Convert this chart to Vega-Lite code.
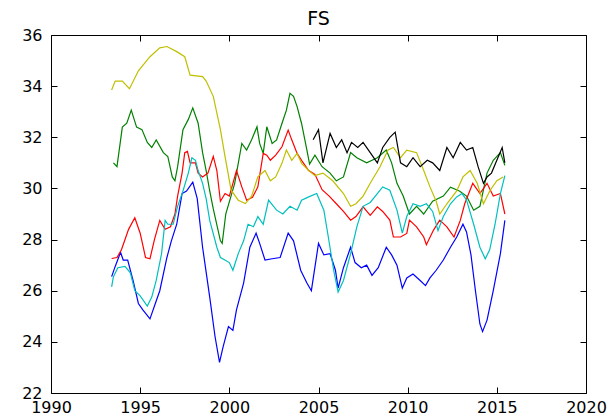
{
  "$schema": "https://vega.github.io/schema/vega-lite/v6.json",
  "autosize": {"type": "none"},
  "width": 535,
  "height": 358,
  "padding": {"left": 51, "top": 35, "right": 22, "bottom": 23},
  "background": "white",
  "view": {"stroke": "black", "strokeWidth": 1},
  "title": {"text": "FS", "fontSize": 19, "font": "DejaVu Sans", "fontWeight": "normal", "color": "black", "anchor": "middle", "offset": -2},
  "config": {"axis": {"labelFont": "DejaVu Sans", "labelFontSize": 16, "labelColor": "black", "tickColor": "black", "tickWidth": 1, "domain": false, "grid": false, "title": null}},
  "data": {"values": [
    {"s":"s1","x":1993.4,"y":26.55},{"s":"s1","x":1993.6,"y":26.95},{"s":"s1","x":1993.9,"y":27.5},{"s":"s1","x":1994.05,"y":27.2},{"s":"s1","x":1994.3,"y":27.2},{"s":"s1","x":1994.6,"y":26.4},{"s":"s1","x":1994.9,"y":25.5},{"s":"s1","x":1995.15,"y":25.25},{"s":"s1","x":1995.55,"y":24.9},{"s":"s1","x":1995.85,"y":25.5},{"s":"s1","x":1996.1,"y":26.0},{"s":"s1","x":1996.5,"y":27.3},{"s":"s1","x":1996.75,"y":27.95},{"s":"s1","x":1997.05,"y":28.6},{"s":"s1","x":1997.35,"y":29.8},{"s":"s1","x":1997.6,"y":29.9},{"s":"s1","x":1997.95,"y":30.25},{"s":"s1","x":1998.2,"y":29.6},{"s":"s1","x":1998.5,"y":27.7},{"s":"s1","x":1998.9,"y":25.75},{"s":"s1","x":1999.2,"y":24.2},{"s":"s1","x":1999.45,"y":23.2},{"s":"s1","x":1999.65,"y":23.8},{"s":"s1","x":1999.95,"y":24.6},{"s":"s1","x":2000.2,"y":24.45},{"s":"s1","x":2000.4,"y":25.25},{"s":"s1","x":2000.8,"y":26.3},{"s":"s1","x":2001.15,"y":27.7},{"s":"s1","x":2001.5,"y":28.25},{"s":"s1","x":2001.7,"y":27.85},{"s":"s1","x":2002.0,"y":27.2},{"s":"s1","x":2002.4,"y":27.25},{"s":"s1","x":2002.85,"y":27.3},{"s":"s1","x":2003.3,"y":28.25},{"s":"s1","x":2003.6,"y":27.95},{"s":"s1","x":2004.0,"y":26.8},{"s":"s1","x":2004.35,"y":26.3},{"s":"s1","x":2004.6,"y":26.0},{"s":"s1","x":2005.0,"y":27.85},{"s":"s1","x":2005.3,"y":27.4},{"s":"s1","x":2005.65,"y":27.45},{"s":"s1","x":2005.95,"y":26.8},{"s":"s1","x":2006.1,"y":26.1},{"s":"s1","x":2006.4,"y":26.9},{"s":"s1","x":2006.8,"y":27.7},{"s":"s1","x":2007.05,"y":27.1},{"s":"s1","x":2007.4,"y":26.9},{"s":"s1","x":2007.7,"y":27.0},{"s":"s1","x":2008.0,"y":26.6},{"s":"s1","x":2008.35,"y":26.9},{"s":"s1","x":2008.8,"y":27.7},{"s":"s1","x":2009.1,"y":27.4},{"s":"s1","x":2009.4,"y":27.0},{"s":"s1","x":2009.7,"y":26.1},{"s":"s1","x":2009.95,"y":26.5},{"s":"s1","x":2010.3,"y":26.65},{"s":"s1","x":2010.7,"y":26.4},{"s":"s1","x":2011.0,"y":26.2},{"s":"s1","x":2011.25,"y":26.5},{"s":"s1","x":2011.6,"y":26.8},{"s":"s1","x":2012.0,"y":27.2},{"s":"s1","x":2012.4,"y":27.7},{"s":"s1","x":2012.75,"y":28.1},{"s":"s1","x":2013.1,"y":28.6},{"s":"s1","x":2013.3,"y":28.3},{"s":"s1","x":2013.55,"y":27.4},{"s":"s1","x":2013.8,"y":26.0},{"s":"s1","x":2014.05,"y":24.7},{"s":"s1","x":2014.2,"y":24.4},{"s":"s1","x":2014.45,"y":24.85},{"s":"s1","x":2014.8,"y":26.0},{"s":"s1","x":2015.2,"y":27.45},{"s":"s1","x":2015.45,"y":28.75},

    {"s":"s2","x":1993.5,"y":31.0},{"s":"s2","x":1993.7,"y":30.85},{"s":"s2","x":1994.0,"y":32.4},{"s":"s2","x":1994.25,"y":32.55},{"s":"s2","x":1994.5,"y":33.06},{"s":"s2","x":1994.8,"y":32.4},{"s":"s2","x":1995.1,"y":32.3},{"s":"s2","x":1995.4,"y":31.8},{"s":"s2","x":1995.65,"y":31.6},{"s":"s2","x":1995.9,"y":31.9},{"s":"s2","x":1996.3,"y":31.4},{"s":"s2","x":1996.55,"y":31.25},{"s":"s2","x":1996.8,"y":30.45},{"s":"s2","x":1996.95,"y":30.3},{"s":"s2","x":1997.1,"y":30.85},{"s":"s2","x":1997.4,"y":32.3},{"s":"s2","x":1997.7,"y":32.7},{"s":"s2","x":1997.95,"y":33.15},{"s":"s2","x":1998.25,"y":32.55},{"s":"s2","x":1998.5,"y":31.4},{"s":"s2","x":1998.7,"y":30.7},{"s":"s2","x":1998.9,"y":29.9},{"s":"s2","x":1999.1,"y":29.2},{"s":"s2","x":1999.5,"y":27.95},{"s":"s2","x":1999.6,"y":27.85},{"s":"s2","x":1999.8,"y":29.0},{"s":"s2","x":2000.3,"y":30.2},{"s":"s2","x":2000.7,"y":31.76},{"s":"s2","x":2000.97,"y":31.5},{"s":"s2","x":2001.25,"y":31.9},{"s":"s2","x":2001.55,"y":32.41},{"s":"s2","x":2001.7,"y":31.76},{"s":"s2","x":2001.9,"y":31.37},{"s":"s2","x":2002.1,"y":32.41},{"s":"s2","x":2002.4,"y":31.76},{"s":"s2","x":2002.65,"y":31.9},{"s":"s2","x":2002.95,"y":32.54},{"s":"s2","x":2003.2,"y":33.06},{"s":"s2","x":2003.4,"y":33.72},{"s":"s2","x":2003.6,"y":33.6},{"s":"s2","x":2003.8,"y":33.2},{"s":"s2","x":2004.05,"y":32.54},{"s":"s2","x":2004.35,"y":31.5},{"s":"s2","x":2004.5,"y":30.95},{"s":"s2","x":2004.8,"y":31.3},{"s":"s2","x":2005.2,"y":30.85},{"s":"s2","x":2005.65,"y":30.6},{"s":"s2","x":2006.0,"y":30.3},{"s":"s2","x":2006.4,"y":30.45},{"s":"s2","x":2006.8,"y":31.4},{"s":"s2","x":2007.15,"y":31.2},{"s":"s2","x":2007.7,"y":31.0},{"s":"s2","x":2008.3,"y":31.2},{"s":"s2","x":2008.8,"y":31.5},{"s":"s2","x":2009.1,"y":31.0},{"s":"s2","x":2009.4,"y":30.2},{"s":"s2","x":2009.75,"y":29.7},{"s":"s2","x":2010.1,"y":29.0},{"s":"s2","x":2010.5,"y":29.3},{"s":"s2","x":2010.9,"y":29.0},{"s":"s2","x":2011.4,"y":29.5},{"s":"s2","x":2012.0,"y":29.7},{"s":"s2","x":2012.4,"y":30.05},{"s":"s2","x":2012.9,"y":29.9},{"s":"s2","x":2013.3,"y":29.7},{"s":"s2","x":2013.7,"y":29.15},{"s":"s2","x":2014.05,"y":29.3},{"s":"s2","x":2014.45,"y":30.6},{"s":"s2","x":2014.8,"y":31.1},{"s":"s2","x":2015.2,"y":31.4},{"s":"s2","x":2015.45,"y":30.9},

    {"s":"s3","x":1993.4,"y":27.26},{"s":"s3","x":1993.7,"y":27.3},{"s":"s3","x":1993.95,"y":27.6},{"s":"s3","x":1994.35,"y":28.4},{"s":"s3","x":1994.7,"y":28.85},{"s":"s3","x":1995.0,"y":28.25},{"s":"s3","x":1995.3,"y":27.3},{"s":"s3","x":1995.55,"y":27.25},{"s":"s3","x":1995.8,"y":28.0},{"s":"s3","x":1996.1,"y":28.75},{"s":"s3","x":1996.4,"y":28.4},{"s":"s3","x":1996.7,"y":28.5},{"s":"s3","x":1996.95,"y":29.0},{"s":"s3","x":1997.1,"y":29.7},{"s":"s3","x":1997.35,"y":30.6},{"s":"s3","x":1997.5,"y":31.4},{"s":"s3","x":1997.65,"y":31.45},{"s":"s3","x":1997.8,"y":31.0},{"s":"s3","x":1998.1,"y":31.0},{"s":"s3","x":1998.25,"y":30.6},{"s":"s3","x":1998.5,"y":30.45},{"s":"s3","x":1998.8,"y":30.6},{"s":"s3","x":1999.1,"y":31.25},{"s":"s3","x":1999.3,"y":30.7},{"s":"s3","x":1999.5,"y":29.5},{"s":"s3","x":1999.76,"y":29.8},{"s":"s3","x":2000.0,"y":29.7},{"s":"s3","x":2000.4,"y":30.7},{"s":"s3","x":2000.7,"y":30.06},{"s":"s3","x":2000.97,"y":29.54},{"s":"s3","x":2001.3,"y":29.65},{"s":"s3","x":2001.6,"y":30.06},{"s":"s3","x":2001.9,"y":31.37},{"s":"s3","x":2002.1,"y":31.3},{"s":"s3","x":2002.3,"y":31.1},{"s":"s3","x":2002.6,"y":31.3},{"s":"s3","x":2002.95,"y":31.63},{"s":"s3","x":2003.3,"y":32.28},{"s":"s3","x":2003.5,"y":31.9},{"s":"s3","x":2003.8,"y":31.37},{"s":"s3","x":2004.05,"y":31.1},{"s":"s3","x":2004.45,"y":30.7},{"s":"s3","x":2004.8,"y":30.55},{"s":"s3","x":2005.2,"y":29.95},{"s":"s3","x":2005.6,"y":29.7},{"s":"s3","x":2006.0,"y":29.4},{"s":"s3","x":2006.4,"y":29.1},{"s":"s3","x":2006.8,"y":28.76},{"s":"s3","x":2007.1,"y":28.9},{"s":"s3","x":2007.5,"y":29.28},{"s":"s3","x":2007.9,"y":28.95},{"s":"s3","x":2008.3,"y":29.28},{"s":"s3","x":2008.6,"y":29.1},{"s":"s3","x":2009.0,"y":28.76},{"s":"s3","x":2009.2,"y":28.1},{"s":"s3","x":2009.6,"y":28.1},{"s":"s3","x":2009.95,"y":28.24},{"s":"s3","x":2010.1,"y":28.76},{"s":"s3","x":2010.5,"y":28.5},{"s":"s3","x":2010.9,"y":28.1},{"s":"s3","x":2011.05,"y":27.8},{"s":"s3","x":2011.45,"y":28.37},{"s":"s3","x":2011.8,"y":28.76},{"s":"s3","x":2012.2,"y":28.5},{"s":"s3","x":2012.6,"y":28.1},{"s":"s3","x":2012.95,"y":28.75},{"s":"s3","x":2013.2,"y":29.4},{"s":"s3","x":2013.65,"y":30.2},{"s":"s3","x":2014.05,"y":29.8},{"s":"s3","x":2014.45,"y":30.2},{"s":"s3","x":2014.8,"y":29.7},{"s":"s3","x":2015.2,"y":29.8},{"s":"s3","x":2015.45,"y":29.0},

    {"s":"s4","x":1993.4,"y":26.15},{"s":"s4","x":1993.5,"y":26.55},{"s":"s4","x":1993.75,"y":26.9},{"s":"s4","x":1994.15,"y":26.95},{"s":"s4","x":1994.45,"y":26.7},{"s":"s4","x":1994.7,"y":26.0},{"s":"s4","x":1995.0,"y":25.8},{"s":"s4","x":1995.4,"y":25.4},{"s":"s4","x":1995.65,"y":25.75},{"s":"s4","x":1995.9,"y":26.4},{"s":"s4","x":1996.2,"y":27.45},{"s":"s4","x":1996.4,"y":28.75},{"s":"s4","x":1996.55,"y":28.6},{"s":"s4","x":1996.85,"y":28.6},{"s":"s4","x":1997.1,"y":29.3},{"s":"s4","x":1997.4,"y":29.9},{"s":"s4","x":1997.7,"y":30.6},{"s":"s4","x":1997.9,"y":31.2},{"s":"s4","x":1998.1,"y":31.1},{"s":"s4","x":1998.25,"y":30.7},{"s":"s4","x":1998.5,"y":30.2},{"s":"s4","x":1998.7,"y":29.6},{"s":"s4","x":1998.9,"y":28.75},{"s":"s4","x":1999.3,"y":27.7},{"s":"s4","x":1999.5,"y":27.3},{"s":"s4","x":1999.75,"y":27.2},{"s":"s4","x":2000.0,"y":27.1},{"s":"s4","x":2000.2,"y":26.8},{"s":"s4","x":2000.5,"y":27.45},{"s":"s4","x":2000.8,"y":27.95},{"s":"s4","x":2001.05,"y":28.6},{"s":"s4","x":2001.35,"y":28.5},{"s":"s4","x":2001.6,"y":28.9},{"s":"s4","x":2001.9,"y":28.6},{"s":"s4","x":2002.2,"y":29.54},{"s":"s4","x":2002.65,"y":29.15},{"s":"s4","x":2003.0,"y":29.0},{"s":"s4","x":2003.4,"y":29.3},{"s":"s4","x":2003.8,"y":29.15},{"s":"s4","x":2004.05,"y":29.54},{"s":"s4","x":2004.45,"y":29.67},{"s":"s4","x":2004.9,"y":29.8},{"s":"s4","x":2005.3,"y":29.15},{"s":"s4","x":2005.55,"y":28.1},{"s":"s4","x":2005.85,"y":26.8},{"s":"s4","x":2006.1,"y":25.95},{"s":"s4","x":2006.4,"y":26.4},{"s":"s4","x":2006.8,"y":27.45},{"s":"s4","x":2007.15,"y":28.5},{"s":"s4","x":2007.5,"y":29.3},{"s":"s4","x":2007.9,"y":29.45},{"s":"s4","x":2008.3,"y":29.8},{"s":"s4","x":2008.6,"y":30.06},{"s":"s4","x":2009.0,"y":29.93},{"s":"s4","x":2009.4,"y":29.15},{"s":"s4","x":2009.7,"y":28.25},{"s":"s4","x":2009.95,"y":28.9},{"s":"s4","x":2010.3,"y":29.4},{"s":"s4","x":2010.7,"y":29.3},{"s":"s4","x":2011.05,"y":29.4},{"s":"s4","x":2011.4,"y":29.1},{"s":"s4","x":2011.7,"y":28.35},{"s":"s4","x":2012.0,"y":28.9},{"s":"s4","x":2012.4,"y":29.4},{"s":"s4","x":2012.75,"y":29.67},{"s":"s4","x":2013.05,"y":29.8},{"s":"s4","x":2013.3,"y":29.55},{"s":"s4","x":2013.7,"y":28.6},{"s":"s4","x":2014.05,"y":27.7},{"s":"s4","x":2014.35,"y":27.25},{"s":"s4","x":2014.6,"y":27.6},{"s":"s4","x":2014.9,"y":28.6},{"s":"s4","x":2015.2,"y":29.8},{"s":"s4","x":2015.45,"y":30.5},

    {"s":"s5","x":1993.4,"y":33.85},{"s":"s5","x":1993.6,"y":34.2},{"s":"s5","x":1994.0,"y":34.2},{"s":"s5","x":1994.4,"y":33.9},{"s":"s5","x":1994.9,"y":34.6},{"s":"s5","x":1995.55,"y":35.15},{"s":"s5","x":1996.1,"y":35.5},{"s":"s5","x":1996.5,"y":35.55},{"s":"s5","x":1997.05,"y":35.35},{"s":"s5","x":1997.5,"y":35.15},{"s":"s5","x":1997.8,"y":34.43},{"s":"s5","x":1998.5,"y":34.37},{"s":"s5","x":1998.7,"y":34.2},{"s":"s5","x":1999.1,"y":33.6},{"s":"s5","x":1999.5,"y":32.3},{"s":"s5","x":1999.76,"y":31.24},{"s":"s5","x":2000.1,"y":29.93},{"s":"s5","x":2000.5,"y":29.54},{"s":"s5","x":2000.9,"y":29.41},{"s":"s5","x":2001.25,"y":29.7},{"s":"s5","x":2001.6,"y":30.45},{"s":"s5","x":2002.0,"y":30.7},{"s":"s5","x":2002.3,"y":30.3},{"s":"s5","x":2002.6,"y":30.45},{"s":"s5","x":2002.95,"y":30.98},{"s":"s5","x":2003.2,"y":31.5},{"s":"s5","x":2003.5,"y":31.1},{"s":"s5","x":2003.8,"y":31.37},{"s":"s5","x":2004.05,"y":30.98},{"s":"s5","x":2004.45,"y":30.7},{"s":"s5","x":2004.8,"y":30.5},{"s":"s5","x":2005.25,"y":30.6},{"s":"s5","x":2005.8,"y":30.3},{"s":"s5","x":2006.4,"y":29.8},{"s":"s5","x":2006.8,"y":29.3},{"s":"s5","x":2007.1,"y":29.4},{"s":"s5","x":2007.5,"y":29.7},{"s":"s5","x":2007.9,"y":30.2},{"s":"s5","x":2008.45,"y":30.85},{"s":"s5","x":2008.9,"y":31.5},{"s":"s5","x":2009.2,"y":31.6},{"s":"s5","x":2009.6,"y":31.2},{"s":"s5","x":2009.95,"y":31.5},{"s":"s5","x":2010.5,"y":31.4},{"s":"s5","x":2010.9,"y":30.7},{"s":"s5","x":2011.25,"y":30.06},{"s":"s5","x":2011.6,"y":29.5},{"s":"s5","x":2011.8,"y":29.0},{"s":"s5","x":2012.2,"y":29.4},{"s":"s5","x":2012.75,"y":29.9},{"s":"s5","x":2013.1,"y":30.45},{"s":"s5","x":2013.5,"y":30.7},{"s":"s5","x":2013.9,"y":30.2},{"s":"s5","x":2014.25,"y":29.4},{"s":"s5","x":2014.6,"y":29.9},{"s":"s5","x":2015.0,"y":30.3},{"s":"s5","x":2015.35,"y":30.45},

    {"s":"s6","x":2004.7,"y":31.9},{"s":"s6","x":2005.0,"y":32.3},{"s":"s6","x":2005.25,"y":31.0},{"s":"s6","x":2005.65,"y":32.15},{"s":"s6","x":2006.0,"y":31.6},{"s":"s6","x":2006.3,"y":31.9},{"s":"s6","x":2006.6,"y":31.4},{"s":"s6","x":2006.85,"y":31.8},{"s":"s6","x":2007.2,"y":31.6},{"s":"s6","x":2007.5,"y":31.8},{"s":"s6","x":2007.9,"y":31.4},{"s":"s6","x":2008.3,"y":31.0},{"s":"s6","x":2008.6,"y":31.6},{"s":"s6","x":2009.0,"y":32.0},{"s":"s6","x":2009.3,"y":32.2},{"s":"s6","x":2009.6,"y":31.0},{"s":"s6","x":2009.95,"y":30.85},{"s":"s6","x":2010.3,"y":31.2},{"s":"s6","x":2010.7,"y":30.85},{"s":"s6","x":2011.1,"y":31.1},{"s":"s6","x":2011.4,"y":31.0},{"s":"s6","x":2011.8,"y":30.7},{"s":"s6","x":2012.2,"y":31.6},{"s":"s6","x":2012.55,"y":31.2},{"s":"s6","x":2012.95,"y":31.8},{"s":"s6","x":2013.3,"y":31.5},{"s":"s6","x":2013.65,"y":31.6},{"s":"s6","x":2013.95,"y":30.85},{"s":"s6","x":2014.25,"y":30.2},{"s":"s6","x":2014.45,"y":30.45},{"s":"s6","x":2014.7,"y":30.6},{"s":"s6","x":2015.0,"y":31.1},{"s":"s6","x":2015.3,"y":31.6},{"s":"s6","x":2015.45,"y":31.0}
  ]},
  "resolve": {"axis": {"x": "independent", "y": "independent"}},
  "layer": [
    {
      "mark": {"type": "line", "strokeWidth": 1.2, "clip": true},
      "encoding": {
        "x": {"field": "x", "type": "quantitative", "scale": {"domain": [1990, 2020], "nice": false, "zero": false},
              "axis": {"orient": "bottom", "values": [1990, 1995, 2000, 2005, 2010, 2015, 2020], "format": "d", "ticks": false, "tickSize": 0, "labelPadding": 6, "labelFlush": false}},
        "y": {"field": "y", "type": "quantitative", "scale": {"domain": [22, 36], "nice": false, "zero": false},
              "axis": {"orient": "left", "values": [22, 24, 26, 28, 30, 32, 34, 36], "ticks": false, "tickSize": 0, "labelPadding": 9}},
        "color": {"field": "s", "type": "nominal", "legend": null,
                  "scale": {"domain": ["s1", "s2", "s3", "s4", "s5", "s6"], "range": ["#0000ff", "#008000", "#ff0000", "#00bfbf", "#bfbf00", "#000000"]}},
        "order": {"field": "x", "type": "quantitative"}
      }
    },
    {
      "mark": {"type": "line", "strokeOpacity": 0},
      "encoding": {
        "x": {"field": "x", "type": "quantitative", "axis": {"orient": "bottom", "values": [1990, 1995, 2000, 2005, 2010, 2015, 2020], "labels": false, "tickSize": 6, "offset": -6}},
        "y": {"field": "y", "type": "quantitative", "axis": {"orient": "left", "values": [22, 24, 26, 28, 30, 32, 34, 36], "labels": false, "tickSize": 6, "offset": -6}},
        "detail": {"field": "s", "type": "nominal"}
      }
    },
    {
      "mark": {"type": "line", "strokeOpacity": 0},
      "encoding": {
        "x": {"field": "x", "type": "quantitative", "axis": {"orient": "top", "values": [1990, 1995, 2000, 2005, 2010, 2015, 2020], "labels": false, "tickSize": 6, "offset": -6}},
        "y": {"field": "y", "type": "quantitative", "axis": {"orient": "right", "values": [22, 24, 26, 28, 30, 32, 34, 36], "labels": false, "tickSize": 6, "offset": -6}},
        "detail": {"field": "s", "type": "nominal"}
      }
    }
  ]
}
